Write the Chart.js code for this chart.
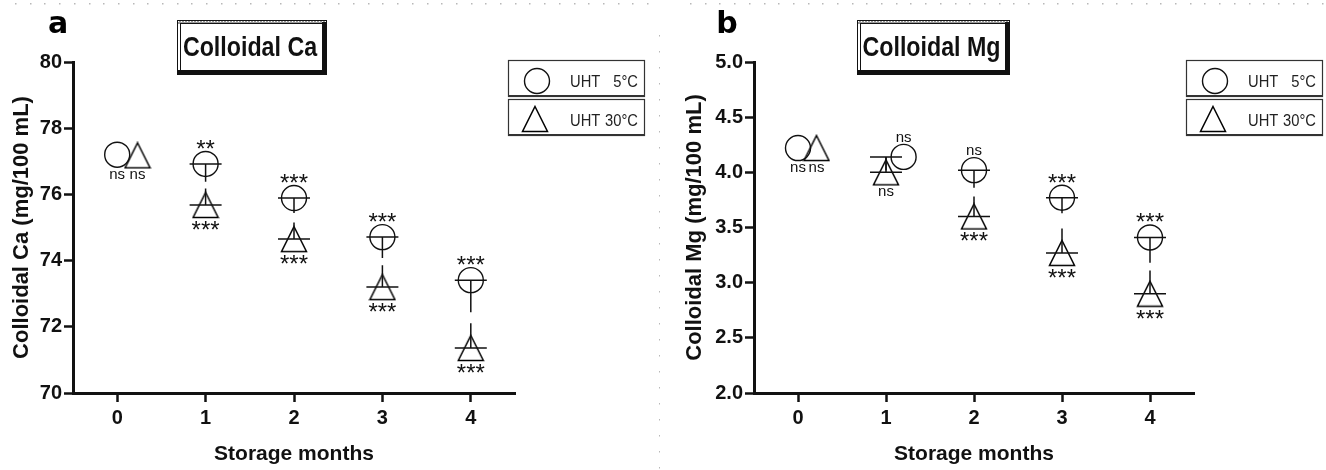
<!DOCTYPE html>
<html>
<head>
<meta charset="utf-8">
<script src="https://cdn.jsdelivr.net/npm/chart.js@4.4.1/dist/chart.umd.min.js"></script>
<style>
  html, body { margin: 0; padding: 0; background: #fff; }
  #wrap { position: relative; width: 1326px; height: 470px; }
  #chartA { position: absolute; left: 0; top: 0; }
  #chartB { position: absolute; left: 660px; top: 0; }
</style>
</head>
<body>
<div id="wrap">
  <canvas id="chartA" width="660" height="470"></canvas>
  <canvas id="chartB" width="666" height="470"></canvas>
</div>
<script>
// storage months (x axis ticks)
const months = [0, 1, 2, 3, 4];

// a - Colloidal Ca (mg/100 mL)
const caX5 = [0, 1, 2, 3, 4];
const ca5 = [77.2, 76.92, 75.89, 74.71, 73.41];
const ca5Sd = [0, 0.54, 0.45, 0.63, 0.97];
const ca5Sig = ['ns', '**', '***', '***', '***'];
const caX30 = [0.23, 1, 2, 3, 4];
const ca30 = [77.18, 75.68, 74.65, 73.2, 71.36];
const ca30Sd = [0, 0.5, 0.5, 0.66, 0.75];
const ca30Sig = ['ns', '***', '***', '***', '***'];
const caTicks = [70, 72, 74, 76, 78, 80];

// b - Colloidal Mg (mg/100 mL)
const mgX5 = [0, 1.2, 2, 3, 4];
const mg5 = [4.22, 4.14, 4.02, 3.77, 3.41];
const mg5Sd = [0, 0.12, 0.16, 0.14, 0.23];
const mg5Sig = ['ns', 'ns', 'ns', '***', '***'];
const mgX30 = [0.21, 1, 2, 3, 4];
const mg30 = [4.22, 4.0, 3.6, 3.27, 2.9];
const mg30Sd = [0, 0.14, 0.18, 0.22, 0.21];
const mg30Sig = ['ns', 'ns', '***', '***', '***'];
const mgTicks = [2.0, 2.5, 3.0, 3.5, 4.0, 4.5, 5.0];

const legendLabels = [['UHT', '5°C'], ['UHT', '30°C']];

const ink = '#111';
const fontFam = "'Liberation Sans', Arial, Helvetica, sans-serif";

// triangle symbol, centred on its box like the original software does
let makeTriangle = () => {
  const c = document.createElement('canvas');
  c.width = 28; c.height = 28;
  const g = c.getContext('2d');
  g.strokeStyle = '#000';
  g.lineWidth = 1.5;
  g.beginPath();
  g.moveTo(14, 1.5);
  g.lineTo(26.5, 26.5);
  g.lineTo(1.5, 26.5);
  g.closePath();
  g.stroke();
  return c;
};
const triImg = makeTriangle();

const panels = {
  chartA: {
    letter: 'a', letterX: 58, title: 'Colloidal Ca', titleBox: [177, 20, 150, 55],
    legendX: 508, padRight: 145, yWidth: 73, yMin: 70, yMax: 80, yTicks: caTicks,
    yTitle: 'Colloidal Ca (mg/100 mL)', yTitlePad: 9, fmt: v => String(v),
    dotStart: 15, sideDots: 659,
    series: [
      { kind: 'circle', xs: caX5, ys: ca5, sd: ca5Sd, sig: ca5Sig },
      { kind: 'triangle', xs: caX30, ys: ca30, sd: ca30Sd, sig: ca30Sig }
    ]
  },
  chartB: {
    letter: 'b', letterX: 67, title: 'Colloidal Mg', titleBox: [197, 20, 153, 55],
    legendX: 526, padRight: 132, yWidth: 94, yMin: 2, yMax: 5, yTicks: mgTicks,
    yTitle: 'Colloidal Mg (mg/100 mL)', yTitlePad: 22, fmt: v => v.toFixed(1),
    dotStart: 30, sideDots: null,
    series: [
      { kind: 'circle', xs: mgX5, ys: mg5, sd: mg5Sd, sig: mg5Sig },
      { kind: 'triangle', xs: mgX30, ys: mg30, sd: mg30Sd, sig: mg30Sig }
    ]
  }
};

let sigLabel = (ctx, text, cx, edgeY, above) => {
  ctx.font = text.startsWith('*') ? `24px ${fontFam}` : `15px ${fontFam}`;
  ctx.textAlign = 'center';
  ctx.textBaseline = 'alphabetic';
  const m = ctx.measureText(text);
  const base = above ? edgeY - m.actualBoundingBoxDescent : edgeY + m.actualBoundingBoxAscent;
  ctx.fillText(text, cx, base);
};

let drawTitleBox = (ctx, [x0, y0, w, h], text) => {
  // hatched top edge
  ctx.fillStyle = '#9a9a9a';
  ctx.fillRect(x0, y0, w, 4);
  ctx.fillStyle = '#fff';
  for (let x = x0 + 1; x < x0 + w; x += 3) ctx.fillRect(x, y0 + 1, 1, 1);
  ctx.strokeStyle = ink;
  ctx.lineWidth = 1;
  ctx.strokeRect(x0 + 0.5, y0 + 0.5, w - 1, h - 1);
  ctx.strokeRect(x0 + 3.5, y0 + 3.5, w - 8, h - 8);
  ctx.fillStyle = ink;
  ctx.fillRect(x0, y0 + h - 5, w, 5);
  ctx.fillRect(x0 + w - 5, y0 + 2, 5, h - 2);
  // the original lettering is a narrow bold face
  ctx.save();
  ctx.translate(x0 + (w - 4) / 2, y0 + h / 2 + 1);
  ctx.scale(0.86, 1);
  ctx.font = `bold 27px ${fontFam}`;
  ctx.textAlign = 'center';
  ctx.textBaseline = 'middle';
  ctx.fillText(text, 0, 0);
  ctx.restore();
};

let drawLegend = (ctx, x0) => {
  const rows = [60, 99];
  rows.forEach((y0, i) => {
    ctx.strokeStyle = '#333';
    ctx.lineWidth = 1.2;
    ctx.strokeRect(x0 + 0.5, y0 + 0.5, 136, 36);
    ctx.fillStyle = '#333';
    ctx.fillRect(x0, y0 + 35, 137, 2);
    const cy = y0 + 19;
    if (i === 0) {
      ctx.beginPath();
      ctx.arc(x0 + 29, cy + 2, 12.5, 0, Math.PI * 2);
      ctx.strokeStyle = ink;
      ctx.lineWidth = 1.4;
      ctx.stroke();
    } else {
      ctx.drawImage(triImg, x0 + 13, cy - 13);
    }
    ctx.fillStyle = '#222';
    ctx.save();
    ctx.translate(0, cy + 4);
    ctx.scale(0.92, 1);
    ctx.font = `16px ${fontFam}`;
    ctx.textBaseline = 'middle';
    ctx.textAlign = 'left';
    ctx.fillText(legendLabels[i][0], (x0 + 62) / 0.92, 0);
    ctx.textAlign = 'right';
    ctx.fillText(legendLabels[i][1], (x0 + 130) / 0.92, 0);
    ctx.restore();
  });
};

const panelDecor = {
  id: 'panelDecor',
  beforeDraw(chart) {
    const p = panels[chart.canvas.id];
    const ctx = chart.ctx;
    ctx.save();
    ctx.fillStyle = '#fff';
    ctx.fillRect(0, 0, chart.width, chart.height);
    ctx.fillStyle = '#b8b8b8';
    for (let x = p.dotStart; x < chart.width - 3; x += 14.7) ctx.fillRect(Math.round(x), 3, 1.5, 1.5);
    if (p.sideDots != null) {
      for (let y = 35; y < chart.height; y += 16) ctx.fillRect(p.sideDots, y, 1.5, 1.5);
    }
    ctx.restore();
  },
  afterDatasetsDraw(chart) {
    const p = panels[chart.canvas.id];
    const {ctx, scales: {x, y}} = chart;
    ctx.save();
    // mean lines and one-sided SD bars
    p.series.forEach(s => {
      const dir = s.kind === 'circle' ? -1 : 1;
      ctx.strokeStyle = ink;
      ctx.lineWidth = 1.5;
      s.xs.forEach((xv, i) => {
        if (!s.sd[i]) return;
        const px = x.getPixelForValue(Math.round(xv));
        const py = y.getPixelForValue(s.ys[i]);
        const pe = y.getPixelForValue(s.ys[i] + dir * s.sd[i]);
        ctx.beginPath();
        ctx.moveTo(px - 16, py);
        ctx.lineTo(px + 16, py);
        ctx.moveTo(px, py);
        ctx.lineTo(px, pe);
        ctx.stroke();
      });
    });
    // significance marks
    ctx.fillStyle = ink;
    p.series.forEach(s => {
      s.xs.forEach((xv, i) => {
        const px = x.getPixelForValue(xv);
        const py = y.getPixelForValue(s.ys[i]);
        const above = s.kind === 'circle' && i > 0;
        if (above) sigLabel(ctx, s.sig[i], px, py - 15, true);
        else sigLabel(ctx, s.sig[i], px, py + 16, false);
      });
    });
    drawTitleBox(ctx, p.titleBox, p.title);
    drawLegend(ctx, p.legendX);
    ctx.fillStyle = '#000';
    ctx.font = "bold 30px 'DejaVu Sans', sans-serif";
    ctx.textAlign = 'center';
    ctx.textBaseline = 'alphabetic';
    ctx.fillText(p.letter, p.letterX, 33);
    ctx.restore();
  }
};

let axisFont = size => ({ family: fontFam, size: size, weight: 'bold' });

let buildChart = id => {
  const p = panels[id];
  return new Chart(document.getElementById(id), {
    type: 'scatter',
    data: {
      datasets: p.series.map(s => ({
        data: s.xs.map((xv, i) => ({ x: xv, y: s.ys[i] })),
        pointStyle: s.kind === 'circle' ? 'circle' : triImg,
        pointRadius: 12.5,
        pointHoverRadius: 12.5,
        borderColor: ink,
        borderWidth: 1.4,
        backgroundColor: 'rgba(0,0,0,0)',
        showLine: false
      }))
    },
    options: {
      responsive: false,
      animation: false,
      events: [],
      layout: { padding: { left: 0, top: 62, right: p.padRight, bottom: 0 } },
      plugins: { legend: { display: false }, tooltip: { enabled: false } },
      scales: {
        x: {
          type: 'linear', min: -0.5, max: 4.5,
          afterBuildTicks: s => { s.ticks = months.map(v => ({ value: v })); },
          afterFit: s => { s.height = 77; },
          grid: { drawOnChartArea: false, drawTicks: true, tickLength: 9, tickWidth: 2.5, tickColor: ink },
          border: { display: true, width: 3, color: ink },
          ticks: { color: ink, font: axisFont(20), padding: 4, callback: v => String(v) },
          title: { display: true, text: 'Storage months', color: ink, font: axisFont(21), padding: { top: 0, bottom: 3 } }
        },
        y: {
          type: 'linear', min: p.yMin, max: p.yMax,
          afterBuildTicks: s => { s.ticks = p.yTicks.map(v => ({ value: v })); },
          afterFit: s => { s.width = p.yWidth; },
          grid: { drawOnChartArea: false, drawTicks: true, tickLength: 9, tickWidth: 2.5, tickColor: ink },
          border: { display: true, width: 3, color: ink },
          ticks: { color: ink, font: axisFont(20), padding: 2, callback: v => p.fmt(v) },
          title: { display: true, text: p.yTitle, color: ink, font: axisFont(22), padding: { top: p.yTitlePad, bottom: 0 } }
        }
      }
    },
    plugins: [panelDecor]
  });
};

buildChart('chartA');
buildChart('chartB');
</script>
</body>
</html>
